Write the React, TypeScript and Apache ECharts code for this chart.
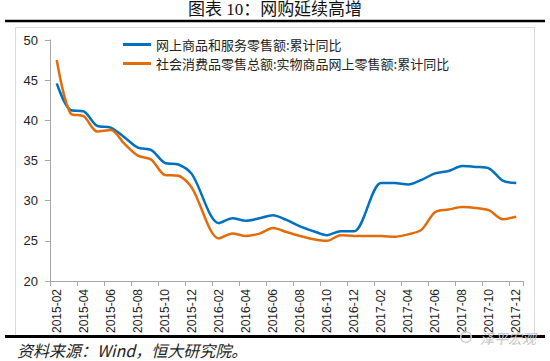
import React, { useEffect, useRef } from "react";
import * as echarts from "echarts";

const categories: string[] = [];
for (let y = 2015; y <= 2017; y++) {
  for (let m = 1; m <= 12; m++) {
    if (y === 2015 && m === 1) continue;
    categories.push(`${y}-${m < 10 ? "0" + m : m}`);
  }
}

const onlineTotal: (number | null)[] = [
  44.6, 41.3, 41.1, 39.3, 39.1, 37.9, 36.6, 36.3, 34.7, 34.5, 33.3,
  null, 27.2, 27.8, 27.5, 27.8, 28.2, 27.6, 26.8, 26.2, 25.7, 26.2, 26.2,
  null, 32.2, 32.2, 32.0, 32.6, 33.4, 33.7, 34.3, 34.2, 34.0, 32.5, 32.2,
];

const physicalOnline: (number | null)[] = [
  47.5, 40.9, 40.5, 38.6, 38.8, 37.1, 35.6, 35.1, 33.2, 33.1, 31.6,
  null, 25.3, 25.9, 25.6, 25.9, 26.6, 26.1, 25.6, 25.2, 25.0, 25.7, 25.6,
  null, 25.6, 25.5, 25.8, 26.4, 28.6, 28.9, 29.2, 29.1, 28.8, 27.7, 28.0,
];

const seriesNames = ["网上商品和服务零售额:累计同比", "社会消费品零售总额:实物商品网上零售额:累计同比"];
const titleText = "图表 10：网购延续高增";
const sourceText = "资料来源：Wind，恒大研究院。";

export default function App() {
  const ref = useRef<HTMLDivElement>(null);
  useEffect(() => {
    if (!ref.current) return;
    const chart = echarts.init(ref.current, undefined, { renderer: "svg" });
    const font = "'Liberation Sans', 'Noto Sans CJK SC', sans-serif";
    chart.setOption({
      animation: false,
      backgroundColor: "#ffffff",
      textStyle: { fontFamily: font },
      grid: { left: 50, right: 27, top: 40, bottom: 80, containLabel: false },
      legend: {
        orient: "vertical",
        left: 118,
        top: 33,
        itemWidth: 28,
        itemHeight: 3,
        itemGap: 6,
        icon: "rect",
        textStyle: { fontSize: 13, color: "#222", fontFamily: "'Noto Sans CJK SC', sans-serif" },
        data: seriesNames,
      },
      xAxis: {
        type: "category",
        data: categories,
        boundaryGap: true,
        axisLine: { lineStyle: { color: "#a6a6a6", width: 1 } },
        axisTick: { show: true, interval: 1, length: 5, lineStyle: { color: "#a6a6a6" } },
        axisLabel: { interval: 1, rotate: 90, fontSize: 12, color: "#222", margin: 8 },
        splitLine: { show: false },
      },
      yAxis: {
        type: "value",
        min: 20,
        max: 50,
        interval: 5,
        axisLine: { show: true, lineStyle: { color: "#a6a6a6", width: 1 } },
        axisTick: { show: true, length: 5, lineStyle: { color: "#a6a6a6" } },
        axisLabel: { fontSize: 13, color: "#222", margin: 12 },
        splitLine: { show: false },
      },
      series: [
        {
          name: seriesNames[0],
          type: "line",
          data: onlineTotal,
          smooth: 0.3,
          connectNulls: true,
          showSymbol: false,
          symbol: "none",
          lineStyle: { color: "#0070c0", width: 2.5 },
          itemStyle: { color: "#0070c0" },
        },
        {
          name: seriesNames[1],
          type: "line",
          data: physicalOnline,
          smooth: 0.3,
          connectNulls: true,
          showSymbol: false,
          symbol: "none",
          lineStyle: { color: "#e36c0a", width: 2.5 },
          itemStyle: { color: "#e36c0a" },
        },
      ],
      graphic: [
        {
          type: "text",
          left: "center",
          top: 1,
          style: {
            text: titleText,
            font: "17px 'Liberation Serif', 'Noto Sans CJK SC', serif",
            fill: "#111",
          },
        },
        {
          type: "line",
          shape: { x1: 5, y1: 21, x2: 545, y2: 21 },
          style: { stroke: "#000", lineWidth: 2.5 },
        },
        {
          type: "rect",
          shape: { x: 15.5, y: 27.5, width: 519, height: 308 },
          style: { stroke: "#d9d9d9", fill: "none", lineWidth: 1 },
          z: -1,
        },
        {
          type: "line",
          shape: { x1: 5, y1: 336.5, x2: 545, y2: 336.5 },
          style: { stroke: "#000", lineWidth: 3 },
        },
        {
          type: "text",
          x: 17,
          y: 350,
          style: {
            text: sourceText,
            font: "italic 16px 'Noto Sans CJK SC', sans-serif",
            fill: "#222",
            textVerticalAlign: "middle",
          },
        },
        {
          type: "ring",
          shape: { cx: 466, cy: 337, r: 6, r0: 4.5 },
          style: { fill: "#cfcfcf" },
          z: 10,
        },
        {
          type: "text",
          x: 480,
          y: 338,
          style: {
            text: "泽平宏观",
            font: "italic 14px 'Noto Sans CJK SC', sans-serif",
            fill: "#c4c4c4",
            textVerticalAlign: "middle",
          },
          z: 10,
        },
      ],
    });
    return () => chart.dispose();
  }, []);
  return (
    <div
      ref={ref}
      style={{ position: "fixed", left: 0, top: 0, width: 550, height: 361 }}
    />
  );
}
